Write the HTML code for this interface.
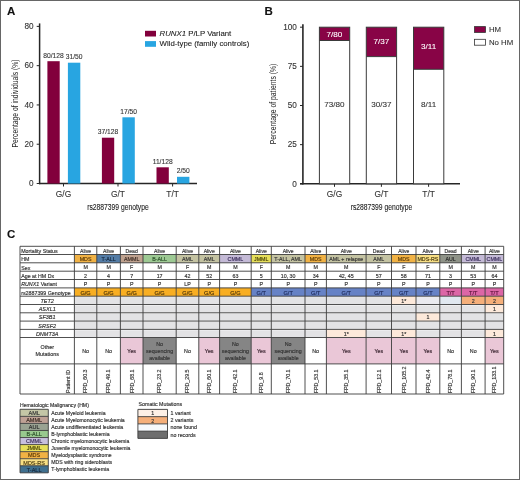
<!DOCTYPE html>
<html><head><meta charset="utf-8"><style>
html,body{margin:0;padding:0;background:#fff;}
svg{display:block;filter:blur(0.35px);font-family:"Liberation Sans", sans-serif;}
</style></head><body>
<svg width="520" height="480" viewBox="0 0 520 480">
<rect width="520" height="480" fill="#fff"/>
<text x="7" y="15" font-size="11.5" text-anchor="start" fill="#111" stroke="#111" stroke-width="0.1" font-weight="bold" font-style="normal" >A</text>
<line x1="39.6" y1="23.4" x2="39.6" y2="184.2" stroke="#262626" stroke-width="1.5"/>
<line x1="38.9" y1="183.5" x2="197" y2="183.5" stroke="#262626" stroke-width="1.5"/>
<line x1="36.7" y1="183.5" x2="39.7" y2="183.5" stroke="#262626" stroke-width="1"/>
<text x="33.6" y="186.2" font-size="8.2" text-anchor="end" fill="#333" stroke="#333" stroke-width="0.1" font-weight="normal" font-style="normal" >0</text>
<line x1="36.7" y1="144.22" x2="39.7" y2="144.22" stroke="#262626" stroke-width="1"/>
<text x="33.6" y="146.92" font-size="8.2" text-anchor="end" fill="#333" stroke="#333" stroke-width="0.1" font-weight="normal" font-style="normal" >20</text>
<line x1="36.7" y1="104.94" x2="39.7" y2="104.94" stroke="#262626" stroke-width="1"/>
<text x="33.6" y="107.64" font-size="8.2" text-anchor="end" fill="#333" stroke="#333" stroke-width="0.1" font-weight="normal" font-style="normal" >40</text>
<line x1="36.7" y1="65.66" x2="39.7" y2="65.66" stroke="#262626" stroke-width="1"/>
<text x="33.6" y="68.36" font-size="8.2" text-anchor="end" fill="#333" stroke="#333" stroke-width="0.1" font-weight="normal" font-style="normal" >60</text>
<line x1="36.7" y1="26.379999999999995" x2="39.7" y2="26.379999999999995" stroke="#262626" stroke-width="1"/>
<text x="33.6" y="29.079999999999995" font-size="8.2" text-anchor="end" fill="#333" stroke="#333" stroke-width="0.1" font-weight="normal" font-style="normal" >80</text>
<text transform="translate(18.3,103.5) rotate(-90)" font-size="8.4" text-anchor="middle" fill="#222" textLength="88" lengthAdjust="spacingAndGlyphs">Percentage of individuals (%)</text>
<rect x="47.4" y="61.2" width="12.3" height="122.3" fill="#82003c" />
<rect x="67.9" y="62.7" width="12.4" height="120.8" fill="#28a5e1" />
<text x="53.55" y="57.800000000000004" font-size="6.7" text-anchor="middle" fill="#333" stroke="#333" stroke-width="0.1" font-weight="normal" font-style="normal" >80/128</text>
<text x="74.1" y="59.300000000000004" font-size="6.7" text-anchor="middle" fill="#333" stroke="#333" stroke-width="0.1" font-weight="normal" font-style="normal" >31/50</text>
<rect x="101.9" y="137.7" width="12.3" height="45.80000000000001" fill="#82003c" />
<rect x="122.4" y="117.3" width="12.4" height="66.2" fill="#28a5e1" />
<text x="108.05" y="134.29999999999998" font-size="6.7" text-anchor="middle" fill="#333" stroke="#333" stroke-width="0.1" font-weight="normal" font-style="normal" >37/128</text>
<text x="128.6" y="113.89999999999999" font-size="6.7" text-anchor="middle" fill="#333" stroke="#333" stroke-width="0.1" font-weight="normal" font-style="normal" >17/50</text>
<rect x="156.5" y="167.3" width="12.3" height="16.19999999999999" fill="#82003c" />
<rect x="177.0" y="176.8" width="12.4" height="6.699999999999989" fill="#28a5e1" />
<text x="162.65" y="163.9" font-size="6.7" text-anchor="middle" fill="#333" stroke="#333" stroke-width="0.1" font-weight="normal" font-style="normal" >11/128</text>
<text x="183.2" y="173.4" font-size="6.7" text-anchor="middle" fill="#333" stroke="#333" stroke-width="0.1" font-weight="normal" font-style="normal" >2/50</text>
<line x1="63.5" y1="183.5" x2="63.5" y2="186.5" stroke="#262626" stroke-width="1"/>
<text x="63.5" y="196.9" font-size="8.4" text-anchor="middle" fill="#333" stroke="#333" stroke-width="0.1" font-weight="normal" font-style="normal" >G/G</text>
<line x1="118" y1="183.5" x2="118" y2="186.5" stroke="#262626" stroke-width="1"/>
<text x="118" y="196.9" font-size="8.4" text-anchor="middle" fill="#333" stroke="#333" stroke-width="0.1" font-weight="normal" font-style="normal" >G/T</text>
<line x1="172.6" y1="183.5" x2="172.6" y2="186.5" stroke="#262626" stroke-width="1"/>
<text x="172.6" y="196.9" font-size="8.4" text-anchor="middle" fill="#333" stroke="#333" stroke-width="0.1" font-weight="normal" font-style="normal" >T/T</text>
<text x="118" y="210" font-size="8.5" text-anchor="middle" fill="#222" stroke="#222" stroke-width="0.1" font-weight="normal" font-style="normal" textLength="61.5" lengthAdjust="spacingAndGlyphs" >rs2887399 genotype</text>
<rect x="145" y="30.8" width="11" height="5.7" fill="#82003c" />
<rect x="145" y="41.1" width="11" height="5.7" fill="#28a5e1" />
<text x="159.6" y="36.2" font-size="7.8" fill="#222" stroke="#222" stroke-width="0.1"><tspan font-style="italic">RUNX1</tspan> P/LP Variant</text>
<text x="159.6" y="46.4" font-size="7.8" text-anchor="start" fill="#222" stroke="#222" stroke-width="0.1" font-weight="normal" font-style="normal" >Wild-type (family controls)</text>
<text x="264.5" y="15" font-size="11.5" text-anchor="start" fill="#111" stroke="#111" stroke-width="0.1" font-weight="bold" font-style="normal" >B</text>
<line x1="302.9" y1="24.2" x2="302.9" y2="184.5" stroke="#262626" stroke-width="1.6"/>
<line x1="300" y1="183.8" x2="460" y2="183.8" stroke="#262626" stroke-width="1.6"/>
<line x1="300" y1="183.8" x2="303" y2="183.8" stroke="#262626" stroke-width="1"/>
<text x="296.8" y="186.5" font-size="8.2" text-anchor="end" fill="#333" stroke="#333" stroke-width="0.1" font-weight="normal" font-style="normal" >0</text>
<line x1="300" y1="144.65" x2="303" y2="144.65" stroke="#262626" stroke-width="1"/>
<text x="296.8" y="147.35" font-size="8.2" text-anchor="end" fill="#333" stroke="#333" stroke-width="0.1" font-weight="normal" font-style="normal" >25</text>
<line x1="300" y1="105.5" x2="303" y2="105.5" stroke="#262626" stroke-width="1"/>
<text x="296.8" y="108.2" font-size="8.2" text-anchor="end" fill="#333" stroke="#333" stroke-width="0.1" font-weight="normal" font-style="normal" >50</text>
<line x1="300" y1="66.35" x2="303" y2="66.35" stroke="#262626" stroke-width="1"/>
<text x="296.8" y="69.05" font-size="8.2" text-anchor="end" fill="#333" stroke="#333" stroke-width="0.1" font-weight="normal" font-style="normal" >75</text>
<line x1="300" y1="27.19999999999999" x2="303" y2="27.19999999999999" stroke="#262626" stroke-width="1"/>
<text x="296.8" y="29.899999999999988" font-size="8.2" text-anchor="end" fill="#333" stroke="#333" stroke-width="0.1" font-weight="normal" font-style="normal" >100</text>
<text transform="translate(276.2,104) rotate(-90)" font-size="8.3" text-anchor="middle" fill="#222" textLength="80.5" lengthAdjust="spacingAndGlyphs">Percentage of patients (%)</text>
<rect x="319.4" y="27.2" width="30.3" height="13.3" fill="#880446" />
<rect x="319.4" y="40.5" width="30.3" height="143.3" fill="#fff" />
<rect x="319.4" y="27.2" width="30.3" height="156.60000000000002" fill="none" stroke="#3a3a3a" stroke-width="1"/>
<line x1="319.4" y1="40.5" x2="349.7" y2="40.5" stroke="#3a3a3a" stroke-width="1"/>
<text x="334.5" y="37.4" font-size="8.1" text-anchor="middle" fill="#fff" stroke="#fff" stroke-width="0.1" font-weight="normal" font-style="normal" >7/80</text>
<text x="334.5" y="107.2" font-size="8.1" text-anchor="middle" fill="#333" stroke="#333" stroke-width="0.1" font-weight="normal" font-style="normal" >73/80</text>
<line x1="334.5" y1="183.8" x2="334.5" y2="186.8" stroke="#262626" stroke-width="1"/>
<text x="334.5" y="196.9" font-size="8.4" text-anchor="middle" fill="#333" stroke="#333" stroke-width="0.1" font-weight="normal" font-style="normal" >G/G</text>
<rect x="366.29999999999995" y="27.2" width="30.3" height="29.400000000000002" fill="#880446" />
<rect x="366.29999999999995" y="56.6" width="30.3" height="127.20000000000002" fill="#fff" />
<rect x="366.29999999999995" y="27.2" width="30.3" height="156.60000000000002" fill="none" stroke="#3a3a3a" stroke-width="1"/>
<line x1="366.29999999999995" y1="56.6" x2="396.59999999999997" y2="56.6" stroke="#3a3a3a" stroke-width="1"/>
<text x="381.4" y="44.1" font-size="8.1" text-anchor="middle" fill="#fff" stroke="#fff" stroke-width="0.1" font-weight="normal" font-style="normal" >7/37</text>
<text x="381.4" y="107.2" font-size="8.1" text-anchor="middle" fill="#333" stroke="#333" stroke-width="0.1" font-weight="normal" font-style="normal" >30/37</text>
<line x1="381.4" y1="183.8" x2="381.4" y2="186.8" stroke="#262626" stroke-width="1"/>
<text x="381.4" y="196.9" font-size="8.4" text-anchor="middle" fill="#333" stroke="#333" stroke-width="0.1" font-weight="normal" font-style="normal" >G/T</text>
<rect x="413.5" y="27.2" width="30.3" height="42.099999999999994" fill="#880446" />
<rect x="413.5" y="69.3" width="30.3" height="114.50000000000001" fill="#fff" />
<rect x="413.5" y="27.2" width="30.3" height="156.60000000000002" fill="none" stroke="#3a3a3a" stroke-width="1"/>
<line x1="413.5" y1="69.3" x2="443.8" y2="69.3" stroke="#3a3a3a" stroke-width="1"/>
<text x="428.6" y="49.0" font-size="8.1" text-anchor="middle" fill="#fff" stroke="#fff" stroke-width="0.1" font-weight="normal" font-style="normal" >3/11</text>
<text x="428.6" y="107.2" font-size="8.1" text-anchor="middle" fill="#333" stroke="#333" stroke-width="0.1" font-weight="normal" font-style="normal" >8/11</text>
<line x1="428.6" y1="183.8" x2="428.6" y2="186.8" stroke="#262626" stroke-width="1"/>
<text x="428.6" y="196.9" font-size="8.4" text-anchor="middle" fill="#333" stroke="#333" stroke-width="0.1" font-weight="normal" font-style="normal" >T/T</text>
<text x="381.5" y="210" font-size="8.5" text-anchor="middle" fill="#222" stroke="#222" stroke-width="0.1" font-weight="normal" font-style="normal" textLength="61.5" lengthAdjust="spacingAndGlyphs" >rs2887399 genotype</text>
<rect x="474.5" y="26.6" width="11" height="5.8" fill="#880446" stroke="#333" stroke-width="0.8"/>
<rect x="474.5" y="39.3" width="11" height="5.9" fill="#fff" stroke="#333" stroke-width="0.8"/>
<text x="488.9" y="32.4" font-size="7.8" text-anchor="start" fill="#333" stroke="#333" stroke-width="0.1" font-weight="normal" font-style="normal" >HM</text>
<text x="488.9" y="44.9" font-size="7.8" text-anchor="start" fill="#333" stroke="#333" stroke-width="0.1" font-weight="normal" font-style="normal" >No HM</text>
<text x="7" y="238.4" font-size="11.5" text-anchor="start" fill="#111" stroke="#111" stroke-width="0.1" font-weight="bold" font-style="normal" >C</text>
<rect x="74.4" y="254.5" width="22.39999999999999" height="8.300000000000011" fill="#f1b244" />
<rect x="74.4" y="287.9" width="22.39999999999999" height="8.300000000000011" fill="#f8ae22" />
<rect x="74.4" y="297.09999999999997" width="22.39999999999999" height="7.400000000000011" fill="#e3e3e5" />
<rect x="74.4" y="305.4" width="22.39999999999999" height="7.400000000000011" fill="#e3e3e5" />
<rect x="74.4" y="313.7" width="22.39999999999999" height="7.400000000000011" fill="#e3e3e5" />
<rect x="74.4" y="322.0" width="22.39999999999999" height="7.399999999999954" fill="#e3e3e5" />
<rect x="74.4" y="330.29999999999995" width="22.39999999999999" height="7.200000000000022" fill="#e3e3e5" />
<rect x="96.8" y="254.5" width="23.60000000000001" height="8.300000000000011" fill="#547ca5" />
<rect x="96.8" y="287.9" width="23.60000000000001" height="8.300000000000011" fill="#f8ae22" />
<rect x="96.8" y="297.09999999999997" width="23.60000000000001" height="7.400000000000011" fill="#e3e3e5" />
<rect x="96.8" y="305.4" width="23.60000000000001" height="7.400000000000011" fill="#e3e3e5" />
<rect x="96.8" y="313.7" width="23.60000000000001" height="7.400000000000011" fill="#e3e3e5" />
<rect x="96.8" y="322.0" width="23.60000000000001" height="7.399999999999954" fill="#e3e3e5" />
<rect x="96.8" y="330.29999999999995" width="23.60000000000001" height="7.200000000000022" fill="#e3e3e5" />
<rect x="120.4" y="254.5" width="22.599999999999994" height="8.300000000000011" fill="#bfa28f" />
<rect x="120.4" y="287.9" width="22.599999999999994" height="8.300000000000011" fill="#f8ae22" />
<rect x="120.4" y="297.09999999999997" width="22.599999999999994" height="7.400000000000011" fill="#e3e3e5" />
<rect x="120.4" y="305.4" width="22.599999999999994" height="7.400000000000011" fill="#e3e3e5" />
<rect x="120.4" y="313.7" width="22.599999999999994" height="7.400000000000011" fill="#e3e3e5" />
<rect x="120.4" y="322.0" width="22.599999999999994" height="7.399999999999954" fill="#e3e3e5" />
<rect x="120.4" y="330.29999999999995" width="22.599999999999994" height="7.200000000000022" fill="#e3e3e5" />
<rect x="120.4" y="337.5" width="22.599999999999994" height="26.399999999999977" fill="#eac7d7" />
<rect x="143" y="254.5" width="33.19999999999999" height="8.300000000000011" fill="#9dc993" />
<rect x="143" y="287.9" width="33.19999999999999" height="8.300000000000011" fill="#f8ae22" />
<rect x="143" y="297.09999999999997" width="33.19999999999999" height="7.400000000000011" fill="#e3e3e5" />
<rect x="143" y="305.4" width="33.19999999999999" height="7.400000000000011" fill="#e3e3e5" />
<rect x="143" y="313.7" width="33.19999999999999" height="7.400000000000011" fill="#e3e3e5" />
<rect x="143" y="322.0" width="33.19999999999999" height="7.399999999999954" fill="#e3e3e5" />
<rect x="143" y="330.29999999999995" width="33.19999999999999" height="7.200000000000022" fill="#e3e3e5" />
<rect x="143" y="337.5" width="33.19999999999999" height="26.399999999999977" fill="#858585" />
<rect x="176.2" y="254.5" width="22.600000000000023" height="8.300000000000011" fill="#c4c3a2" />
<rect x="176.2" y="287.9" width="22.600000000000023" height="8.300000000000011" fill="#f8ae22" />
<rect x="176.2" y="297.09999999999997" width="22.600000000000023" height="7.400000000000011" fill="#e3e3e5" />
<rect x="176.2" y="305.4" width="22.600000000000023" height="7.400000000000011" fill="#e3e3e5" />
<rect x="176.2" y="313.7" width="22.600000000000023" height="7.400000000000011" fill="#e3e3e5" />
<rect x="176.2" y="322.0" width="22.600000000000023" height="7.399999999999954" fill="#e3e3e5" />
<rect x="176.2" y="330.29999999999995" width="22.600000000000023" height="7.200000000000022" fill="#e3e3e5" />
<rect x="198.8" y="254.5" width="20.799999999999983" height="8.300000000000011" fill="#c4c3a2" />
<rect x="198.8" y="287.9" width="20.799999999999983" height="8.300000000000011" fill="#f8ae22" />
<rect x="198.8" y="297.09999999999997" width="20.799999999999983" height="7.400000000000011" fill="#e3e3e5" />
<rect x="198.8" y="305.4" width="20.799999999999983" height="7.400000000000011" fill="#e3e3e5" />
<rect x="198.8" y="313.7" width="20.799999999999983" height="7.400000000000011" fill="#e3e3e5" />
<rect x="198.8" y="322.0" width="20.799999999999983" height="7.399999999999954" fill="#e3e3e5" />
<rect x="198.8" y="330.29999999999995" width="20.799999999999983" height="7.200000000000022" fill="#e3e3e5" />
<rect x="198.8" y="337.5" width="20.799999999999983" height="26.399999999999977" fill="#eac7d7" />
<rect x="219.6" y="254.5" width="31.599999999999994" height="8.300000000000011" fill="#c4bad6" />
<rect x="219.6" y="287.9" width="31.599999999999994" height="8.300000000000011" fill="#f8ae22" />
<rect x="219.6" y="297.09999999999997" width="31.599999999999994" height="7.400000000000011" fill="#e3e3e5" />
<rect x="219.6" y="305.4" width="31.599999999999994" height="7.400000000000011" fill="#e3e3e5" />
<rect x="219.6" y="313.7" width="31.599999999999994" height="7.400000000000011" fill="#e3e3e5" />
<rect x="219.6" y="322.0" width="31.599999999999994" height="7.399999999999954" fill="#e3e3e5" />
<rect x="219.6" y="330.29999999999995" width="31.599999999999994" height="7.200000000000022" fill="#e3e3e5" />
<rect x="219.6" y="337.5" width="31.599999999999994" height="26.399999999999977" fill="#858585" />
<rect x="251.2" y="254.5" width="20.100000000000023" height="8.300000000000011" fill="#e6df5a" />
<rect x="251.2" y="287.9" width="20.100000000000023" height="8.300000000000011" fill="#6682c6" />
<rect x="251.2" y="297.09999999999997" width="20.100000000000023" height="7.400000000000011" fill="#e3e3e5" />
<rect x="251.2" y="305.4" width="20.100000000000023" height="7.400000000000011" fill="#e3e3e5" />
<rect x="251.2" y="313.7" width="20.100000000000023" height="7.400000000000011" fill="#e3e3e5" />
<rect x="251.2" y="322.0" width="20.100000000000023" height="7.399999999999954" fill="#e3e3e5" />
<rect x="251.2" y="330.29999999999995" width="20.100000000000023" height="7.200000000000022" fill="#e3e3e5" />
<rect x="251.2" y="337.5" width="20.100000000000023" height="26.399999999999977" fill="#eac7d7" />
<rect x="271.3" y="254.5" width="33.69999999999999" height="8.300000000000011" fill="#c4c3a2" />
<rect x="271.3" y="287.9" width="33.69999999999999" height="8.300000000000011" fill="#6682c6" />
<rect x="271.3" y="297.09999999999997" width="33.69999999999999" height="7.400000000000011" fill="#e3e3e5" />
<rect x="271.3" y="305.4" width="33.69999999999999" height="7.400000000000011" fill="#e3e3e5" />
<rect x="271.3" y="313.7" width="33.69999999999999" height="7.400000000000011" fill="#e3e3e5" />
<rect x="271.3" y="322.0" width="33.69999999999999" height="7.399999999999954" fill="#e3e3e5" />
<rect x="271.3" y="330.29999999999995" width="33.69999999999999" height="7.200000000000022" fill="#e3e3e5" />
<rect x="271.3" y="337.5" width="33.69999999999999" height="26.399999999999977" fill="#858585" />
<rect x="305" y="254.5" width="21.399999999999977" height="8.300000000000011" fill="#f1b244" />
<rect x="305" y="287.9" width="21.399999999999977" height="8.300000000000011" fill="#6682c6" />
<rect x="305" y="297.09999999999997" width="21.399999999999977" height="7.400000000000011" fill="#e3e3e5" />
<rect x="305" y="305.4" width="21.399999999999977" height="7.400000000000011" fill="#e3e3e5" />
<rect x="305" y="313.7" width="21.399999999999977" height="7.400000000000011" fill="#e3e3e5" />
<rect x="305" y="322.0" width="21.399999999999977" height="7.399999999999954" fill="#e3e3e5" />
<rect x="305" y="330.29999999999995" width="21.399999999999977" height="7.200000000000022" fill="#e3e3e5" />
<rect x="326.4" y="254.5" width="39.700000000000045" height="8.300000000000011" fill="#c4c3a2" />
<rect x="326.4" y="287.9" width="39.700000000000045" height="8.300000000000011" fill="#6682c6" />
<rect x="326.4" y="297.09999999999997" width="39.700000000000045" height="7.400000000000011" fill="#e3e3e5" />
<rect x="326.4" y="305.4" width="39.700000000000045" height="7.400000000000011" fill="#e3e3e5" />
<rect x="326.4" y="313.7" width="39.700000000000045" height="7.400000000000011" fill="#e3e3e5" />
<rect x="326.4" y="322.0" width="39.700000000000045" height="7.399999999999954" fill="#e3e3e5" />
<rect x="326.4" y="329.4" width="39.700000000000045" height="8.100000000000023" fill="#fde9da" />
<rect x="326.4" y="337.5" width="39.700000000000045" height="26.399999999999977" fill="#eac7d7" />
<rect x="366.1" y="254.5" width="25.399999999999977" height="8.300000000000011" fill="#c4c3a2" />
<rect x="366.1" y="287.9" width="25.399999999999977" height="8.300000000000011" fill="#6682c6" />
<rect x="366.1" y="297.09999999999997" width="25.399999999999977" height="7.400000000000011" fill="#e3e3e5" />
<rect x="366.1" y="305.4" width="25.399999999999977" height="7.400000000000011" fill="#e3e3e5" />
<rect x="366.1" y="313.7" width="25.399999999999977" height="7.400000000000011" fill="#e3e3e5" />
<rect x="366.1" y="322.0" width="25.399999999999977" height="7.399999999999954" fill="#e3e3e5" />
<rect x="366.1" y="330.29999999999995" width="25.399999999999977" height="7.200000000000022" fill="#e3e3e5" />
<rect x="366.1" y="337.5" width="25.399999999999977" height="26.399999999999977" fill="#eac7d7" />
<rect x="391.5" y="254.5" width="24.5" height="8.300000000000011" fill="#f1b244" />
<rect x="391.5" y="287.9" width="24.5" height="8.300000000000011" fill="#6682c6" />
<rect x="391.5" y="296.2" width="24.5" height="8.300000000000011" fill="#fde9da" />
<rect x="391.5" y="305.4" width="24.5" height="7.400000000000011" fill="#e3e3e5" />
<rect x="391.5" y="313.7" width="24.5" height="7.400000000000011" fill="#e3e3e5" />
<rect x="391.5" y="322.0" width="24.5" height="7.399999999999954" fill="#e3e3e5" />
<rect x="391.5" y="329.4" width="24.5" height="8.100000000000023" fill="#fde9da" />
<rect x="391.5" y="337.5" width="24.5" height="26.399999999999977" fill="#eac7d7" />
<rect x="416" y="254.5" width="23.80000000000001" height="8.300000000000011" fill="#f8df84" />
<rect x="416" y="287.9" width="23.80000000000001" height="8.300000000000011" fill="#6682c6" />
<rect x="416" y="296.2" width="23.80000000000001" height="8.300000000000011" fill="#eaeaef" />
<rect x="416" y="305.4" width="23.80000000000001" height="7.400000000000011" fill="#e3e3e5" />
<rect x="416" y="312.8" width="23.80000000000001" height="8.300000000000011" fill="#fde9da" />
<rect x="416" y="322.0" width="23.80000000000001" height="7.399999999999954" fill="#e3e3e5" />
<rect x="416" y="330.29999999999995" width="23.80000000000001" height="7.200000000000022" fill="#e3e3e5" />
<rect x="416" y="337.5" width="23.80000000000001" height="26.399999999999977" fill="#eac7d7" />
<rect x="439.8" y="254.5" width="21.599999999999966" height="8.300000000000011" fill="#8f9388" />
<rect x="439.8" y="287.9" width="21.599999999999966" height="8.300000000000011" fill="#dc66a6" />
<rect x="439.8" y="296.2" width="21.599999999999966" height="8.300000000000011" fill="#e1e8f0" />
<rect x="439.8" y="305.4" width="21.599999999999966" height="7.400000000000011" fill="#e3e3e5" />
<rect x="439.8" y="313.7" width="21.599999999999966" height="7.400000000000011" fill="#e3e3e5" />
<rect x="439.8" y="322.0" width="21.599999999999966" height="7.399999999999954" fill="#e3e3e5" />
<rect x="439.8" y="330.29999999999995" width="21.599999999999966" height="7.200000000000022" fill="#e3e3e5" />
<rect x="461.4" y="254.5" width="23.700000000000045" height="8.300000000000011" fill="#c4bad6" />
<rect x="461.4" y="287.9" width="23.700000000000045" height="8.300000000000011" fill="#dc66a6" />
<rect x="461.4" y="296.2" width="23.700000000000045" height="8.300000000000011" fill="#f5af7a" />
<rect x="461.4" y="305.4" width="23.700000000000045" height="7.400000000000011" fill="#e3e3e5" />
<rect x="461.4" y="313.7" width="23.700000000000045" height="7.400000000000011" fill="#e3e3e5" />
<rect x="461.4" y="322.0" width="23.700000000000045" height="7.399999999999954" fill="#e3e3e5" />
<rect x="461.4" y="330.29999999999995" width="23.700000000000045" height="7.200000000000022" fill="#e3e3e5" />
<rect x="485.1" y="254.5" width="18.599999999999966" height="8.300000000000011" fill="#c4bad6" />
<rect x="485.1" y="287.9" width="18.599999999999966" height="8.300000000000011" fill="#dc66a6" />
<rect x="485.1" y="296.2" width="18.599999999999966" height="8.300000000000011" fill="#f5af7a" />
<rect x="485.1" y="304.5" width="18.599999999999966" height="8.300000000000011" fill="#fde9da" />
<rect x="485.1" y="313.7" width="18.599999999999966" height="7.400000000000011" fill="#e3e3e5" />
<rect x="485.1" y="322.0" width="18.599999999999966" height="7.399999999999954" fill="#e3e3e5" />
<rect x="485.1" y="329.4" width="18.599999999999966" height="8.100000000000023" fill="#fde9da" />
<rect x="485.1" y="337.5" width="18.599999999999966" height="26.399999999999977" fill="#eac7d7" />
<line x1="20" y1="246.3" x2="503.7" y2="246.3" stroke="#3c3c3c" stroke-width="0.9"/>
<line x1="20" y1="254.5" x2="503.7" y2="254.5" stroke="#3c3c3c" stroke-width="0.9"/>
<line x1="20" y1="262.8" x2="503.7" y2="262.8" stroke="#3c3c3c" stroke-width="0.9"/>
<line x1="20" y1="271.2" x2="503.7" y2="271.2" stroke="#3c3c3c" stroke-width="0.9"/>
<line x1="20" y1="279.5" x2="503.7" y2="279.5" stroke="#3c3c3c" stroke-width="0.9"/>
<line x1="20" y1="287.9" x2="503.7" y2="287.9" stroke="#3c3c3c" stroke-width="0.9"/>
<line x1="20" y1="296.2" x2="503.7" y2="296.2" stroke="#3c3c3c" stroke-width="0.9"/>
<line x1="20" y1="304.5" x2="503.7" y2="304.5" stroke="#3c3c3c" stroke-width="0.9"/>
<line x1="20" y1="312.8" x2="503.7" y2="312.8" stroke="#3c3c3c" stroke-width="0.9"/>
<line x1="20" y1="321.1" x2="503.7" y2="321.1" stroke="#3c3c3c" stroke-width="0.9"/>
<line x1="20" y1="329.4" x2="503.7" y2="329.4" stroke="#3c3c3c" stroke-width="0.9"/>
<line x1="20" y1="337.5" x2="503.7" y2="337.5" stroke="#3c3c3c" stroke-width="0.9"/>
<line x1="20" y1="363.9" x2="503.7" y2="363.9" stroke="#3c3c3c" stroke-width="0.9"/>
<line x1="20" y1="394" x2="503.7" y2="394" stroke="#3c3c3c" stroke-width="0.9"/>
<line x1="20" y1="246.3" x2="20" y2="394" stroke="#3c3c3c" stroke-width="0.9"/>
<line x1="74.4" y1="246.3" x2="74.4" y2="394" stroke="#3c3c3c" stroke-width="0.9"/>
<line x1="96.8" y1="246.3" x2="96.8" y2="394" stroke="#3c3c3c" stroke-width="0.9"/>
<line x1="120.4" y1="246.3" x2="120.4" y2="394" stroke="#3c3c3c" stroke-width="0.9"/>
<line x1="143" y1="246.3" x2="143" y2="394" stroke="#3c3c3c" stroke-width="0.9"/>
<line x1="176.2" y1="246.3" x2="176.2" y2="394" stroke="#3c3c3c" stroke-width="0.9"/>
<line x1="198.8" y1="246.3" x2="198.8" y2="394" stroke="#3c3c3c" stroke-width="0.9"/>
<line x1="219.6" y1="246.3" x2="219.6" y2="394" stroke="#3c3c3c" stroke-width="0.9"/>
<line x1="251.2" y1="246.3" x2="251.2" y2="394" stroke="#3c3c3c" stroke-width="0.9"/>
<line x1="271.3" y1="246.3" x2="271.3" y2="394" stroke="#3c3c3c" stroke-width="0.9"/>
<line x1="305" y1="246.3" x2="305" y2="394" stroke="#3c3c3c" stroke-width="0.9"/>
<line x1="326.4" y1="246.3" x2="326.4" y2="394" stroke="#3c3c3c" stroke-width="0.9"/>
<line x1="366.1" y1="246.3" x2="366.1" y2="394" stroke="#3c3c3c" stroke-width="0.9"/>
<line x1="391.5" y1="246.3" x2="391.5" y2="394" stroke="#3c3c3c" stroke-width="0.9"/>
<line x1="416" y1="246.3" x2="416" y2="394" stroke="#3c3c3c" stroke-width="0.9"/>
<line x1="439.8" y1="246.3" x2="439.8" y2="394" stroke="#3c3c3c" stroke-width="0.9"/>
<line x1="461.4" y1="246.3" x2="461.4" y2="394" stroke="#3c3c3c" stroke-width="0.9"/>
<line x1="485.1" y1="246.3" x2="485.1" y2="394" stroke="#3c3c3c" stroke-width="0.9"/>
<line x1="503.7" y1="246.3" x2="503.7" y2="394" stroke="#3c3c3c" stroke-width="0.9"/>
<text x="21.2" y="252.9" font-size="5.3" text-anchor="start" fill="#333" stroke="#333" stroke-width="0.16" font-weight="normal" font-style="normal" >Mortality Status</text>
<text x="21.2" y="261.15" font-size="5.3" text-anchor="start" fill="#333" stroke="#333" stroke-width="0.16" font-weight="normal" font-style="normal" >HM</text>
<text x="21.2" y="269.5" font-size="5.3" text-anchor="start" fill="#333" stroke="#333" stroke-width="0.16" font-weight="normal" font-style="normal" >Sex</text>
<text x="21.2" y="277.85" font-size="5.3" text-anchor="start" fill="#333" stroke="#333" stroke-width="0.16" font-weight="normal" font-style="normal" >Age at HM Dx</text>
<text x="21.2" y="294.55" font-size="5.3" text-anchor="start" fill="#333" stroke="#333" stroke-width="0.16" font-weight="normal" font-style="normal" >rs2887399 Genotype</text>
<text x="21.2" y="286.20" font-size="5.3" fill="#333" stroke="#333" stroke-width="0.16"><tspan font-style="italic">RUNX1</tspan> Variant</text>
<text x="47.2" y="302.83" font-size="5.5" text-anchor="middle" fill="#333" stroke="#333" stroke-width="0.16" font-weight="normal" font-style="italic" >TET2</text>
<text x="47.2" y="311.13" font-size="5.5" text-anchor="middle" fill="#333" stroke="#333" stroke-width="0.16" font-weight="normal" font-style="italic" >ASXL1</text>
<text x="47.2" y="319.43" font-size="5.5" text-anchor="middle" fill="#333" stroke="#333" stroke-width="0.16" font-weight="normal" font-style="italic" >SF3B1</text>
<text x="47.2" y="327.73" font-size="5.5" text-anchor="middle" fill="#333" stroke="#333" stroke-width="0.16" font-weight="normal" font-style="italic" >SRSF2</text>
<text x="47.2" y="335.93" font-size="5.5" text-anchor="middle" fill="#333" stroke="#333" stroke-width="0.16" font-weight="normal" font-style="italic" >DNMT3A</text>
<text x="47.2" y="348.64" font-size="5.4" text-anchor="middle" fill="#333" stroke="#333" stroke-width="0.16" font-weight="normal" font-style="normal" >Other</text>
<text x="47.2" y="355.74" font-size="5.4" text-anchor="middle" fill="#333" stroke="#333" stroke-width="0.16" font-weight="normal" font-style="normal" >Mutations</text>
<text transform="translate(69.9,393.1) rotate(-90)" font-size="5.3" fill="#333" stroke="#333" stroke-width="0.16">Patient ID</text>
<text x="85.6" y="252.74" font-size="5.1" text-anchor="middle" fill="#333" stroke="#333" stroke-width="0.16" font-weight="normal" font-style="normal" >Alive</text>
<text x="85.6" y="261.06" font-size="5.3" text-anchor="middle" fill="#5a3806" stroke="#5a3806" stroke-width="0.16" font-weight="normal" font-style="normal" >MDS</text>
<text x="85.6" y="269.41" font-size="5.3" text-anchor="middle" fill="#333" stroke="#333" stroke-width="0.16" font-weight="normal" font-style="normal" >M</text>
<text x="85.6" y="277.76" font-size="5.3" text-anchor="middle" fill="#333" stroke="#333" stroke-width="0.16" font-weight="normal" font-style="normal" >2</text>
<text x="85.6" y="286.11" font-size="5.3" text-anchor="middle" fill="#333" stroke="#333" stroke-width="0.16" font-weight="normal" font-style="normal" >P</text>
<text x="85.6" y="294.57" font-size="5.6" text-anchor="middle" fill="#4a3208" stroke="#4a3208" stroke-width="0.16" font-weight="normal" font-style="normal" >G/G</text>
<text x="85.6" y="353.11" font-size="5.3" text-anchor="middle" fill="#333" stroke="#333" stroke-width="0.16" font-weight="normal" font-style="normal" >No</text>
<text transform="translate(87.40,393.3) rotate(-90)" font-size="5.3" fill="#333" stroke="#333" stroke-width="0.16">FPD_60.3</text>
<text x="108.6" y="252.74" font-size="5.1" text-anchor="middle" fill="#333" stroke="#333" stroke-width="0.16" font-weight="normal" font-style="normal" >Alive</text>
<text x="108.6" y="261.06" font-size="5.3" text-anchor="middle" fill="#16283e" stroke="#16283e" stroke-width="0.16" font-weight="normal" font-style="normal" >T-ALL</text>
<text x="108.6" y="269.41" font-size="5.3" text-anchor="middle" fill="#333" stroke="#333" stroke-width="0.16" font-weight="normal" font-style="normal" >M</text>
<text x="108.6" y="277.76" font-size="5.3" text-anchor="middle" fill="#333" stroke="#333" stroke-width="0.16" font-weight="normal" font-style="normal" >4</text>
<text x="108.6" y="286.11" font-size="5.3" text-anchor="middle" fill="#333" stroke="#333" stroke-width="0.16" font-weight="normal" font-style="normal" >P</text>
<text x="108.6" y="294.57" font-size="5.6" text-anchor="middle" fill="#4a3208" stroke="#4a3208" stroke-width="0.16" font-weight="normal" font-style="normal" >G/G</text>
<text x="108.6" y="353.11" font-size="5.3" text-anchor="middle" fill="#333" stroke="#333" stroke-width="0.16" font-weight="normal" font-style="normal" >No</text>
<text transform="translate(110.40,393.3) rotate(-90)" font-size="5.3" fill="#333" stroke="#333" stroke-width="0.16">FPD_49.1</text>
<text x="131.7" y="252.74" font-size="5.1" text-anchor="middle" fill="#333" stroke="#333" stroke-width="0.16" font-weight="normal" font-style="normal" >Dead</text>
<text x="131.7" y="261.06" font-size="5.3" text-anchor="middle" fill="#3a2a22" stroke="#3a2a22" stroke-width="0.16" font-weight="normal" font-style="normal" >AMML</text>
<text x="131.7" y="269.41" font-size="5.3" text-anchor="middle" fill="#333" stroke="#333" stroke-width="0.16" font-weight="normal" font-style="normal" >F</text>
<text x="131.7" y="277.76" font-size="5.3" text-anchor="middle" fill="#333" stroke="#333" stroke-width="0.16" font-weight="normal" font-style="normal" >7</text>
<text x="131.7" y="286.11" font-size="5.3" text-anchor="middle" fill="#333" stroke="#333" stroke-width="0.16" font-weight="normal" font-style="normal" >P</text>
<text x="131.7" y="294.57" font-size="5.6" text-anchor="middle" fill="#4a3208" stroke="#4a3208" stroke-width="0.16" font-weight="normal" font-style="normal" >G/G</text>
<text x="131.7" y="353.11" font-size="5.3" text-anchor="middle" fill="#3a2530" stroke="#3a2530" stroke-width="0.16" font-weight="normal" font-style="normal" >Yes</text>
<text transform="translate(133.50,393.3) rotate(-90)" font-size="5.3" fill="#333" stroke="#333" stroke-width="0.16">FPD_68.1</text>
<text x="159.6" y="252.74" font-size="5.1" text-anchor="middle" fill="#333" stroke="#333" stroke-width="0.16" font-weight="normal" font-style="normal" >Alive</text>
<text x="159.6" y="261.06" font-size="5.3" text-anchor="middle" fill="#2a5028" stroke="#2a5028" stroke-width="0.16" font-weight="normal" font-style="normal" >B-ALL</text>
<text x="159.6" y="269.41" font-size="5.3" text-anchor="middle" fill="#333" stroke="#333" stroke-width="0.16" font-weight="normal" font-style="normal" >M</text>
<text x="159.6" y="277.76" font-size="5.3" text-anchor="middle" fill="#333" stroke="#333" stroke-width="0.16" font-weight="normal" font-style="normal" >17</text>
<text x="159.6" y="286.11" font-size="5.3" text-anchor="middle" fill="#333" stroke="#333" stroke-width="0.16" font-weight="normal" font-style="normal" >P</text>
<text x="159.6" y="294.57" font-size="5.6" text-anchor="middle" fill="#4a3208" stroke="#4a3208" stroke-width="0.16" font-weight="normal" font-style="normal" >G/G</text>
<text x="159.6" y="345.81" font-size="5.3" text-anchor="middle" fill="#333" stroke="#333" stroke-width="0.16" font-weight="normal" font-style="normal" >No</text>
<text x="159.6" y="353.11" font-size="5.3" text-anchor="middle" fill="#333" stroke="#333" stroke-width="0.16" font-weight="normal" font-style="normal" >sequencing</text>
<text x="159.6" y="360.41" font-size="5.3" text-anchor="middle" fill="#333" stroke="#333" stroke-width="0.16" font-weight="normal" font-style="normal" >available</text>
<text transform="translate(161.40,393.3) rotate(-90)" font-size="5.3" fill="#333" stroke="#333" stroke-width="0.16">FPD_23.2</text>
<text x="187.5" y="252.74" font-size="5.1" text-anchor="middle" fill="#333" stroke="#333" stroke-width="0.16" font-weight="normal" font-style="normal" >Alive</text>
<text x="187.5" y="261.06" font-size="5.3" text-anchor="middle" fill="#333" stroke="#333" stroke-width="0.16" font-weight="normal" font-style="normal" >AML</text>
<text x="187.5" y="269.41" font-size="5.3" text-anchor="middle" fill="#333" stroke="#333" stroke-width="0.16" font-weight="normal" font-style="normal" >F</text>
<text x="187.5" y="277.76" font-size="5.3" text-anchor="middle" fill="#333" stroke="#333" stroke-width="0.16" font-weight="normal" font-style="normal" >42</text>
<text x="187.5" y="286.11" font-size="5.3" text-anchor="middle" fill="#333" stroke="#333" stroke-width="0.16" font-weight="normal" font-style="normal" >LP</text>
<text x="187.5" y="294.57" font-size="5.6" text-anchor="middle" fill="#4a3208" stroke="#4a3208" stroke-width="0.16" font-weight="normal" font-style="normal" >G/G</text>
<text x="187.5" y="353.11" font-size="5.3" text-anchor="middle" fill="#333" stroke="#333" stroke-width="0.16" font-weight="normal" font-style="normal" >No</text>
<text transform="translate(189.30,393.3) rotate(-90)" font-size="5.3" fill="#333" stroke="#333" stroke-width="0.16">FPD_29.5</text>
<text x="209.2" y="252.74" font-size="5.1" text-anchor="middle" fill="#333" stroke="#333" stroke-width="0.16" font-weight="normal" font-style="normal" >Alive</text>
<text x="209.2" y="261.06" font-size="5.3" text-anchor="middle" fill="#333" stroke="#333" stroke-width="0.16" font-weight="normal" font-style="normal" >AML</text>
<text x="209.2" y="269.41" font-size="5.3" text-anchor="middle" fill="#333" stroke="#333" stroke-width="0.16" font-weight="normal" font-style="normal" >M</text>
<text x="209.2" y="277.76" font-size="5.3" text-anchor="middle" fill="#333" stroke="#333" stroke-width="0.16" font-weight="normal" font-style="normal" >52</text>
<text x="209.2" y="286.11" font-size="5.3" text-anchor="middle" fill="#333" stroke="#333" stroke-width="0.16" font-weight="normal" font-style="normal" >P</text>
<text x="209.2" y="294.57" font-size="5.6" text-anchor="middle" fill="#4a3208" stroke="#4a3208" stroke-width="0.16" font-weight="normal" font-style="normal" >G/G</text>
<text x="209.2" y="353.11" font-size="5.3" text-anchor="middle" fill="#3a2530" stroke="#3a2530" stroke-width="0.16" font-weight="normal" font-style="normal" >Yes</text>
<text transform="translate(211.00,393.3) rotate(-90)" font-size="5.3" fill="#333" stroke="#333" stroke-width="0.16">FPD_60.1</text>
<text x="235.4" y="252.74" font-size="5.1" text-anchor="middle" fill="#333" stroke="#333" stroke-width="0.16" font-weight="normal" font-style="normal" >Alive</text>
<text x="235.4" y="261.06" font-size="5.3" text-anchor="middle" fill="#3a2c5a" stroke="#3a2c5a" stroke-width="0.16" font-weight="normal" font-style="normal" >CMML</text>
<text x="235.4" y="269.41" font-size="5.3" text-anchor="middle" fill="#333" stroke="#333" stroke-width="0.16" font-weight="normal" font-style="normal" >M</text>
<text x="235.4" y="277.76" font-size="5.3" text-anchor="middle" fill="#333" stroke="#333" stroke-width="0.16" font-weight="normal" font-style="normal" >63</text>
<text x="235.4" y="286.11" font-size="5.3" text-anchor="middle" fill="#333" stroke="#333" stroke-width="0.16" font-weight="normal" font-style="normal" >P</text>
<text x="235.4" y="294.57" font-size="5.6" text-anchor="middle" fill="#4a3208" stroke="#4a3208" stroke-width="0.16" font-weight="normal" font-style="normal" >G/G</text>
<text x="235.4" y="345.81" font-size="5.3" text-anchor="middle" fill="#333" stroke="#333" stroke-width="0.16" font-weight="normal" font-style="normal" >No</text>
<text x="235.4" y="353.11" font-size="5.3" text-anchor="middle" fill="#333" stroke="#333" stroke-width="0.16" font-weight="normal" font-style="normal" >sequencing</text>
<text x="235.4" y="360.41" font-size="5.3" text-anchor="middle" fill="#333" stroke="#333" stroke-width="0.16" font-weight="normal" font-style="normal" >available</text>
<text transform="translate(237.20,393.3) rotate(-90)" font-size="5.3" fill="#333" stroke="#333" stroke-width="0.16">FPD_42.1</text>
<text x="261.25" y="252.74" font-size="5.1" text-anchor="middle" fill="#333" stroke="#333" stroke-width="0.16" font-weight="normal" font-style="normal" >Alive</text>
<text x="261.25" y="261.06" font-size="5.3" text-anchor="middle" fill="#4a4408" stroke="#4a4408" stroke-width="0.16" font-weight="normal" font-style="normal" >JMML</text>
<text x="261.25" y="269.41" font-size="5.3" text-anchor="middle" fill="#333" stroke="#333" stroke-width="0.16" font-weight="normal" font-style="normal" >F</text>
<text x="261.25" y="277.76" font-size="5.3" text-anchor="middle" fill="#333" stroke="#333" stroke-width="0.16" font-weight="normal" font-style="normal" >5</text>
<text x="261.25" y="286.11" font-size="5.3" text-anchor="middle" fill="#333" stroke="#333" stroke-width="0.16" font-weight="normal" font-style="normal" >P</text>
<text x="261.25" y="294.57" font-size="5.6" text-anchor="middle" fill="#1d2a5a" stroke="#1d2a5a" stroke-width="0.16" font-weight="normal" font-style="normal" >G/T</text>
<text x="261.25" y="353.11" font-size="5.3" text-anchor="middle" fill="#3a2530" stroke="#3a2530" stroke-width="0.16" font-weight="normal" font-style="normal" >Yes</text>
<text transform="translate(263.05,393.3) rotate(-90)" font-size="5.3" fill="#333" stroke="#333" stroke-width="0.16">FPD_9.8</text>
<text x="288.15" y="252.74" font-size="5.1" text-anchor="middle" fill="#333" stroke="#333" stroke-width="0.16" font-weight="normal" font-style="normal" >Alive</text>
<text x="288.15" y="261.06" font-size="5.3" text-anchor="middle" fill="#333" stroke="#333" stroke-width="0.16" font-weight="normal" font-style="normal" >T-ALL, AML</text>
<text x="288.15" y="269.41" font-size="5.3" text-anchor="middle" fill="#333" stroke="#333" stroke-width="0.16" font-weight="normal" font-style="normal" >M</text>
<text x="288.15" y="277.76" font-size="5.3" text-anchor="middle" fill="#333" stroke="#333" stroke-width="0.16" font-weight="normal" font-style="normal" >10, 30</text>
<text x="288.15" y="286.11" font-size="5.3" text-anchor="middle" fill="#333" stroke="#333" stroke-width="0.16" font-weight="normal" font-style="normal" >P</text>
<text x="288.15" y="294.57" font-size="5.6" text-anchor="middle" fill="#1d2a5a" stroke="#1d2a5a" stroke-width="0.16" font-weight="normal" font-style="normal" >G/T</text>
<text x="288.15" y="345.81" font-size="5.3" text-anchor="middle" fill="#333" stroke="#333" stroke-width="0.16" font-weight="normal" font-style="normal" >No</text>
<text x="288.15" y="353.11" font-size="5.3" text-anchor="middle" fill="#333" stroke="#333" stroke-width="0.16" font-weight="normal" font-style="normal" >sequencing</text>
<text x="288.15" y="360.41" font-size="5.3" text-anchor="middle" fill="#333" stroke="#333" stroke-width="0.16" font-weight="normal" font-style="normal" >available</text>
<text transform="translate(289.95,393.3) rotate(-90)" font-size="5.3" fill="#333" stroke="#333" stroke-width="0.16">FPD_70.1</text>
<text x="315.7" y="252.74" font-size="5.1" text-anchor="middle" fill="#333" stroke="#333" stroke-width="0.16" font-weight="normal" font-style="normal" >Alive</text>
<text x="315.7" y="261.06" font-size="5.3" text-anchor="middle" fill="#5a3806" stroke="#5a3806" stroke-width="0.16" font-weight="normal" font-style="normal" >MDS</text>
<text x="315.7" y="269.41" font-size="5.3" text-anchor="middle" fill="#333" stroke="#333" stroke-width="0.16" font-weight="normal" font-style="normal" >M</text>
<text x="315.7" y="277.76" font-size="5.3" text-anchor="middle" fill="#333" stroke="#333" stroke-width="0.16" font-weight="normal" font-style="normal" >34</text>
<text x="315.7" y="286.11" font-size="5.3" text-anchor="middle" fill="#333" stroke="#333" stroke-width="0.16" font-weight="normal" font-style="normal" >P</text>
<text x="315.7" y="294.57" font-size="5.6" text-anchor="middle" fill="#1d2a5a" stroke="#1d2a5a" stroke-width="0.16" font-weight="normal" font-style="normal" >G/T</text>
<text x="315.7" y="353.11" font-size="5.3" text-anchor="middle" fill="#333" stroke="#333" stroke-width="0.16" font-weight="normal" font-style="normal" >No</text>
<text transform="translate(317.50,393.3) rotate(-90)" font-size="5.3" fill="#333" stroke="#333" stroke-width="0.16">FPD_53.1</text>
<text x="346.25" y="252.74" font-size="5.1" text-anchor="middle" fill="#333" stroke="#333" stroke-width="0.16" font-weight="normal" font-style="normal" >Alive</text>
<text x="346.25" y="261.06" font-size="5.3" text-anchor="middle" fill="#333" stroke="#333" stroke-width="0.16" font-weight="normal" font-style="normal" >AML + relapse</text>
<text x="346.25" y="269.41" font-size="5.3" text-anchor="middle" fill="#333" stroke="#333" stroke-width="0.16" font-weight="normal" font-style="normal" >M</text>
<text x="346.25" y="277.76" font-size="5.3" text-anchor="middle" fill="#333" stroke="#333" stroke-width="0.16" font-weight="normal" font-style="normal" >42, 45</text>
<text x="346.25" y="286.11" font-size="5.3" text-anchor="middle" fill="#333" stroke="#333" stroke-width="0.16" font-weight="normal" font-style="normal" >P</text>
<text x="346.25" y="294.57" font-size="5.6" text-anchor="middle" fill="#1d2a5a" stroke="#1d2a5a" stroke-width="0.16" font-weight="normal" font-style="normal" >G/T</text>
<text x="346.25" y="335.86" font-size="5.3" text-anchor="middle" fill="#333" stroke="#333" stroke-width="0.16" font-weight="normal" font-style="normal" >1*</text>
<text x="346.25" y="353.11" font-size="5.3" text-anchor="middle" fill="#3a2530" stroke="#3a2530" stroke-width="0.16" font-weight="normal" font-style="normal" >Yes</text>
<text transform="translate(348.05,393.3) rotate(-90)" font-size="5.3" fill="#333" stroke="#333" stroke-width="0.16">FPD_35.1</text>
<text x="378.8" y="252.74" font-size="5.1" text-anchor="middle" fill="#333" stroke="#333" stroke-width="0.16" font-weight="normal" font-style="normal" >Dead</text>
<text x="378.8" y="261.06" font-size="5.3" text-anchor="middle" fill="#333" stroke="#333" stroke-width="0.16" font-weight="normal" font-style="normal" >AML</text>
<text x="378.8" y="269.41" font-size="5.3" text-anchor="middle" fill="#333" stroke="#333" stroke-width="0.16" font-weight="normal" font-style="normal" >F</text>
<text x="378.8" y="277.76" font-size="5.3" text-anchor="middle" fill="#333" stroke="#333" stroke-width="0.16" font-weight="normal" font-style="normal" >57</text>
<text x="378.8" y="286.11" font-size="5.3" text-anchor="middle" fill="#333" stroke="#333" stroke-width="0.16" font-weight="normal" font-style="normal" >P</text>
<text x="378.8" y="294.57" font-size="5.6" text-anchor="middle" fill="#1d2a5a" stroke="#1d2a5a" stroke-width="0.16" font-weight="normal" font-style="normal" >G/T</text>
<text x="378.8" y="353.11" font-size="5.3" text-anchor="middle" fill="#3a2530" stroke="#3a2530" stroke-width="0.16" font-weight="normal" font-style="normal" >Yes</text>
<text transform="translate(380.60,393.3) rotate(-90)" font-size="5.3" fill="#333" stroke="#333" stroke-width="0.16">FPD_12.1</text>
<text x="403.75" y="252.74" font-size="5.1" text-anchor="middle" fill="#333" stroke="#333" stroke-width="0.16" font-weight="normal" font-style="normal" >Alive</text>
<text x="403.75" y="261.06" font-size="5.3" text-anchor="middle" fill="#5a3806" stroke="#5a3806" stroke-width="0.16" font-weight="normal" font-style="normal" >MDS</text>
<text x="403.75" y="269.41" font-size="5.3" text-anchor="middle" fill="#333" stroke="#333" stroke-width="0.16" font-weight="normal" font-style="normal" >F</text>
<text x="403.75" y="277.76" font-size="5.3" text-anchor="middle" fill="#333" stroke="#333" stroke-width="0.16" font-weight="normal" font-style="normal" >58</text>
<text x="403.75" y="286.11" font-size="5.3" text-anchor="middle" fill="#333" stroke="#333" stroke-width="0.16" font-weight="normal" font-style="normal" >P</text>
<text x="403.75" y="294.57" font-size="5.6" text-anchor="middle" fill="#1d2a5a" stroke="#1d2a5a" stroke-width="0.16" font-weight="normal" font-style="normal" >G/T</text>
<text x="403.75" y="302.76" font-size="5.3" text-anchor="middle" fill="#333" stroke="#333" stroke-width="0.16" font-weight="normal" font-style="normal" >1*</text>
<text x="403.75" y="335.86" font-size="5.3" text-anchor="middle" fill="#333" stroke="#333" stroke-width="0.16" font-weight="normal" font-style="normal" >1*</text>
<text x="403.75" y="353.11" font-size="5.3" text-anchor="middle" fill="#3a2530" stroke="#3a2530" stroke-width="0.16" font-weight="normal" font-style="normal" >Yes</text>
<text transform="translate(405.55,393.3) rotate(-90)" font-size="5.3" fill="#333" stroke="#333" stroke-width="0.16">FPD_105.2</text>
<text x="427.9" y="252.74" font-size="5.1" text-anchor="middle" fill="#333" stroke="#333" stroke-width="0.16" font-weight="normal" font-style="normal" >Alive</text>
<text x="427.9" y="261.06" font-size="5.3" text-anchor="middle" fill="#4a3a10" stroke="#4a3a10" stroke-width="0.16" font-weight="normal" font-style="normal" >MDS-RS</text>
<text x="427.9" y="269.41" font-size="5.3" text-anchor="middle" fill="#333" stroke="#333" stroke-width="0.16" font-weight="normal" font-style="normal" >F</text>
<text x="427.9" y="277.76" font-size="5.3" text-anchor="middle" fill="#333" stroke="#333" stroke-width="0.16" font-weight="normal" font-style="normal" >71</text>
<text x="427.9" y="286.11" font-size="5.3" text-anchor="middle" fill="#333" stroke="#333" stroke-width="0.16" font-weight="normal" font-style="normal" >P</text>
<text x="427.9" y="294.57" font-size="5.6" text-anchor="middle" fill="#1d2a5a" stroke="#1d2a5a" stroke-width="0.16" font-weight="normal" font-style="normal" >G/T</text>
<text x="427.9" y="319.36" font-size="5.3" text-anchor="middle" fill="#333" stroke="#333" stroke-width="0.16" font-weight="normal" font-style="normal" >1</text>
<text x="427.9" y="353.11" font-size="5.3" text-anchor="middle" fill="#3a2530" stroke="#3a2530" stroke-width="0.16" font-weight="normal" font-style="normal" >Yes</text>
<text transform="translate(429.70,393.3) rotate(-90)" font-size="5.3" fill="#333" stroke="#333" stroke-width="0.16">FPD_42.4</text>
<text x="450.6" y="252.74" font-size="5.1" text-anchor="middle" fill="#333" stroke="#333" stroke-width="0.16" font-weight="normal" font-style="normal" >Dead</text>
<text x="450.6" y="261.06" font-size="5.3" text-anchor="middle" fill="#2a2a2a" stroke="#2a2a2a" stroke-width="0.16" font-weight="normal" font-style="normal" >AUL</text>
<text x="450.6" y="269.41" font-size="5.3" text-anchor="middle" fill="#333" stroke="#333" stroke-width="0.16" font-weight="normal" font-style="normal" >M</text>
<text x="450.6" y="277.76" font-size="5.3" text-anchor="middle" fill="#333" stroke="#333" stroke-width="0.16" font-weight="normal" font-style="normal" >3</text>
<text x="450.6" y="286.11" font-size="5.3" text-anchor="middle" fill="#333" stroke="#333" stroke-width="0.16" font-weight="normal" font-style="normal" >P</text>
<text x="450.6" y="294.57" font-size="5.6" text-anchor="middle" fill="#5a1038" stroke="#5a1038" stroke-width="0.16" font-weight="normal" font-style="normal" >T/T</text>
<text x="450.6" y="353.11" font-size="5.3" text-anchor="middle" fill="#333" stroke="#333" stroke-width="0.16" font-weight="normal" font-style="normal" >No</text>
<text transform="translate(452.40,393.3) rotate(-90)" font-size="5.3" fill="#333" stroke="#333" stroke-width="0.16">FPD_78.1</text>
<text x="473.25" y="252.74" font-size="5.1" text-anchor="middle" fill="#333" stroke="#333" stroke-width="0.16" font-weight="normal" font-style="normal" >Alive</text>
<text x="473.25" y="261.06" font-size="5.3" text-anchor="middle" fill="#3a2c5a" stroke="#3a2c5a" stroke-width="0.16" font-weight="normal" font-style="normal" >CMML</text>
<text x="473.25" y="269.41" font-size="5.3" text-anchor="middle" fill="#333" stroke="#333" stroke-width="0.16" font-weight="normal" font-style="normal" >M</text>
<text x="473.25" y="277.76" font-size="5.3" text-anchor="middle" fill="#333" stroke="#333" stroke-width="0.16" font-weight="normal" font-style="normal" >53</text>
<text x="473.25" y="286.11" font-size="5.3" text-anchor="middle" fill="#333" stroke="#333" stroke-width="0.16" font-weight="normal" font-style="normal" >P</text>
<text x="473.25" y="294.57" font-size="5.6" text-anchor="middle" fill="#5a1038" stroke="#5a1038" stroke-width="0.16" font-weight="normal" font-style="normal" >T/T</text>
<text x="473.25" y="302.76" font-size="5.3" text-anchor="middle" fill="#333" stroke="#333" stroke-width="0.16" font-weight="normal" font-style="normal" >2</text>
<text x="473.25" y="353.11" font-size="5.3" text-anchor="middle" fill="#333" stroke="#333" stroke-width="0.16" font-weight="normal" font-style="normal" >No</text>
<text transform="translate(475.05,393.3) rotate(-90)" font-size="5.3" fill="#333" stroke="#333" stroke-width="0.16">FPD_90.1</text>
<text x="494.4" y="252.74" font-size="5.1" text-anchor="middle" fill="#333" stroke="#333" stroke-width="0.16" font-weight="normal" font-style="normal" >Alive</text>
<text x="494.4" y="261.06" font-size="5.3" text-anchor="middle" fill="#3a2c5a" stroke="#3a2c5a" stroke-width="0.16" font-weight="normal" font-style="normal" >CMML</text>
<text x="494.4" y="269.41" font-size="5.3" text-anchor="middle" fill="#333" stroke="#333" stroke-width="0.16" font-weight="normal" font-style="normal" >M</text>
<text x="494.4" y="277.76" font-size="5.3" text-anchor="middle" fill="#333" stroke="#333" stroke-width="0.16" font-weight="normal" font-style="normal" >64</text>
<text x="494.4" y="286.11" font-size="5.3" text-anchor="middle" fill="#333" stroke="#333" stroke-width="0.16" font-weight="normal" font-style="normal" >P</text>
<text x="494.4" y="294.57" font-size="5.6" text-anchor="middle" fill="#5a1038" stroke="#5a1038" stroke-width="0.16" font-weight="normal" font-style="normal" >T/T</text>
<text x="494.4" y="302.76" font-size="5.3" text-anchor="middle" fill="#333" stroke="#333" stroke-width="0.16" font-weight="normal" font-style="normal" >2</text>
<text x="494.4" y="311.06" font-size="5.3" text-anchor="middle" fill="#333" stroke="#333" stroke-width="0.16" font-weight="normal" font-style="normal" >1</text>
<text x="494.4" y="335.86" font-size="5.3" text-anchor="middle" fill="#333" stroke="#333" stroke-width="0.16" font-weight="normal" font-style="normal" >1</text>
<text x="494.4" y="353.11" font-size="5.3" text-anchor="middle" fill="#3a2530" stroke="#3a2530" stroke-width="0.16" font-weight="normal" font-style="normal" >Yes</text>
<text transform="translate(496.20,393.3) rotate(-90)" font-size="5.3" fill="#333" stroke="#333" stroke-width="0.16">FPD_133.1</text>
<text x="20" y="407" font-size="5.15" text-anchor="start" fill="#333" stroke="#333" stroke-width="0.16" font-weight="normal" font-style="normal" >Hematologic Malignancy (HM)</text>
<rect x="20" y="409.3" width="28.3" height="7.06" fill="#c4c6a6" />
<text x="34.15" y="415.11" font-size="5.5" text-anchor="middle" fill="#333" stroke="#333" stroke-width="0.16" font-weight="normal" font-style="normal" >AML</text>
<text x="51.3" y="414.73" font-size="5.15" text-anchor="start" fill="#333" stroke="#333" stroke-width="0.16" font-weight="normal" font-style="normal" >Acute Myeloid leukemia</text>
<rect x="20" y="416.36" width="28.3" height="7.06" fill="#bfa195" />
<text x="34.15" y="422.17" font-size="5.5" text-anchor="middle" fill="#3a2a22" stroke="#3a2a22" stroke-width="0.16" font-weight="normal" font-style="normal" >AMML</text>
<text x="51.3" y="421.79" font-size="5.15" text-anchor="start" fill="#333" stroke="#333" stroke-width="0.16" font-weight="normal" font-style="normal" >Acute Myelomonocytic leukemia</text>
<rect x="20" y="423.42" width="28.3" height="7.06" fill="#9aa392" />
<text x="34.15" y="429.23" font-size="5.5" text-anchor="middle" fill="#2a2a2a" stroke="#2a2a2a" stroke-width="0.16" font-weight="normal" font-style="normal" >AUL</text>
<text x="51.3" y="428.85" font-size="5.15" text-anchor="start" fill="#333" stroke="#333" stroke-width="0.16" font-weight="normal" font-style="normal" >Acute undifferentiated leukemia</text>
<rect x="20" y="430.48" width="28.3" height="7.06" fill="#98c98e" />
<text x="34.15" y="436.29" font-size="5.5" text-anchor="middle" fill="#2a5028" stroke="#2a5028" stroke-width="0.16" font-weight="normal" font-style="normal" >B-ALL</text>
<text x="51.3" y="435.91" font-size="5.15" text-anchor="start" fill="#333" stroke="#333" stroke-width="0.16" font-weight="normal" font-style="normal" >B-lymphoblastic leukemia</text>
<rect x="20" y="437.54" width="28.3" height="7.06" fill="#c8c0de" />
<text x="34.15" y="443.35" font-size="5.5" text-anchor="middle" fill="#3a2c5a" stroke="#3a2c5a" stroke-width="0.16" font-weight="normal" font-style="normal" >CMML</text>
<text x="51.3" y="442.97" font-size="5.15" text-anchor="start" fill="#333" stroke="#333" stroke-width="0.16" font-weight="normal" font-style="normal" >Chronic myelomonocytic leukemia</text>
<rect x="20" y="444.6" width="28.3" height="7.06" fill="#e6df5a" />
<text x="34.15" y="450.41" font-size="5.5" text-anchor="middle" fill="#4a4408" stroke="#4a4408" stroke-width="0.16" font-weight="normal" font-style="normal" >JMML</text>
<text x="51.3" y="450.03" font-size="5.15" text-anchor="start" fill="#333" stroke="#333" stroke-width="0.16" font-weight="normal" font-style="normal" >Juvenile myelomonocytic leukemia</text>
<rect x="20" y="451.66" width="28.3" height="7.06" fill="#f1b244" />
<text x="34.15" y="457.47" font-size="5.5" text-anchor="middle" fill="#5a3806" stroke="#5a3806" stroke-width="0.16" font-weight="normal" font-style="normal" >MDS</text>
<text x="51.3" y="457.09" font-size="5.15" text-anchor="start" fill="#333" stroke="#333" stroke-width="0.16" font-weight="normal" font-style="normal" >Myelodysplastic syndrome</text>
<rect x="20" y="458.72" width="28.3" height="7.06" fill="#f8df84" />
<text x="34.15" y="464.53" font-size="5.5" text-anchor="middle" fill="#4a3a10" stroke="#4a3a10" stroke-width="0.16" font-weight="normal" font-style="normal" >MDS-RS</text>
<text x="51.3" y="464.15" font-size="5.15" text-anchor="start" fill="#333" stroke="#333" stroke-width="0.16" font-weight="normal" font-style="normal" >MDS with ring sideroblasts</text>
<rect x="20" y="465.78000000000003" width="28.3" height="7.06" fill="#40708f" />
<text x="34.15" y="471.59" font-size="5.5" text-anchor="middle" fill="#16283e" stroke="#16283e" stroke-width="0.16" font-weight="normal" font-style="normal" >T-ALL</text>
<text x="51.3" y="471.21" font-size="5.15" text-anchor="start" fill="#333" stroke="#333" stroke-width="0.16" font-weight="normal" font-style="normal" >T-lymphoblastic leukemia</text>
<line x1="20" y1="409.3" x2="48.3" y2="409.3" stroke="#3c3c3c" stroke-width="0.9"/>
<line x1="20" y1="416.36" x2="48.3" y2="416.36" stroke="#3c3c3c" stroke-width="0.9"/>
<line x1="20" y1="423.42" x2="48.3" y2="423.42" stroke="#3c3c3c" stroke-width="0.9"/>
<line x1="20" y1="430.48" x2="48.3" y2="430.48" stroke="#3c3c3c" stroke-width="0.9"/>
<line x1="20" y1="437.54" x2="48.3" y2="437.54" stroke="#3c3c3c" stroke-width="0.9"/>
<line x1="20" y1="444.6" x2="48.3" y2="444.6" stroke="#3c3c3c" stroke-width="0.9"/>
<line x1="20" y1="451.66" x2="48.3" y2="451.66" stroke="#3c3c3c" stroke-width="0.9"/>
<line x1="20" y1="458.72" x2="48.3" y2="458.72" stroke="#3c3c3c" stroke-width="0.9"/>
<line x1="20" y1="465.78000000000003" x2="48.3" y2="465.78000000000003" stroke="#3c3c3c" stroke-width="0.9"/>
<line x1="20" y1="472.84000000000003" x2="48.3" y2="472.84000000000003" stroke="#3c3c3c" stroke-width="0.9"/>
<line x1="20" y1="409.3" x2="20" y2="472.84000000000003" stroke="#3c3c3c" stroke-width="0.9"/>
<line x1="48.3" y1="409.3" x2="48.3" y2="472.84000000000003" stroke="#3c3c3c" stroke-width="0.9"/>
<text x="138.5" y="405.8" font-size="5.3" text-anchor="start" fill="#333" stroke="#333" stroke-width="0.16" font-weight="normal" font-style="normal" >Somatic Mutations</text>
<rect x="137.9" y="409.4" width="29.6" height="7.25" fill="#fdf0e6" />
<text x="152.7" y="415.43" font-size="5.3" text-anchor="middle" fill="#333" stroke="#333" stroke-width="0.16" font-weight="normal" font-style="normal" >1</text>
<text x="170.5" y="414.92" font-size="5.3" text-anchor="start" fill="#333" stroke="#333" stroke-width="0.16" font-weight="normal" font-style="normal" >1 variant</text>
<rect x="137.9" y="416.65" width="29.6" height="7.25" fill="#f5af7a" />
<text x="152.7" y="422.68" font-size="5.3" text-anchor="middle" fill="#333" stroke="#333" stroke-width="0.16" font-weight="normal" font-style="normal" >2</text>
<text x="170.5" y="422.17" font-size="5.3" text-anchor="start" fill="#333" stroke="#333" stroke-width="0.16" font-weight="normal" font-style="normal" >2 variants</text>
<rect x="137.9" y="423.9" width="29.6" height="7.25" fill="#f6f9fc" />
<text x="170.5" y="429.42" font-size="5.3" text-anchor="start" fill="#333" stroke="#333" stroke-width="0.16" font-weight="normal" font-style="normal" >none found</text>
<rect x="137.9" y="431.15" width="29.6" height="7.25" fill="#6e6e6e" />
<text x="170.5" y="436.67" font-size="5.3" text-anchor="start" fill="#333" stroke="#333" stroke-width="0.16" font-weight="normal" font-style="normal" >no records</text>
<line x1="137.9" y1="409.4" x2="167.5" y2="409.4" stroke="#3c3c3c" stroke-width="0.9"/>
<line x1="137.9" y1="416.65" x2="167.5" y2="416.65" stroke="#3c3c3c" stroke-width="0.9"/>
<line x1="137.9" y1="423.9" x2="167.5" y2="423.9" stroke="#3c3c3c" stroke-width="0.9"/>
<line x1="137.9" y1="431.15" x2="167.5" y2="431.15" stroke="#3c3c3c" stroke-width="0.9"/>
<line x1="137.9" y1="438.4" x2="167.5" y2="438.4" stroke="#3c3c3c" stroke-width="0.9"/>
<line x1="137.9" y1="409.4" x2="137.9" y2="438.4" stroke="#3c3c3c" stroke-width="0.9"/>
<line x1="167.5" y1="409.4" x2="167.5" y2="438.4" stroke="#3c3c3c" stroke-width="0.9"/>
<rect x="0.5" y="0.5" width="519" height="479" fill="none" stroke="#666" stroke-width="1"/>
</svg>
</body></html>
